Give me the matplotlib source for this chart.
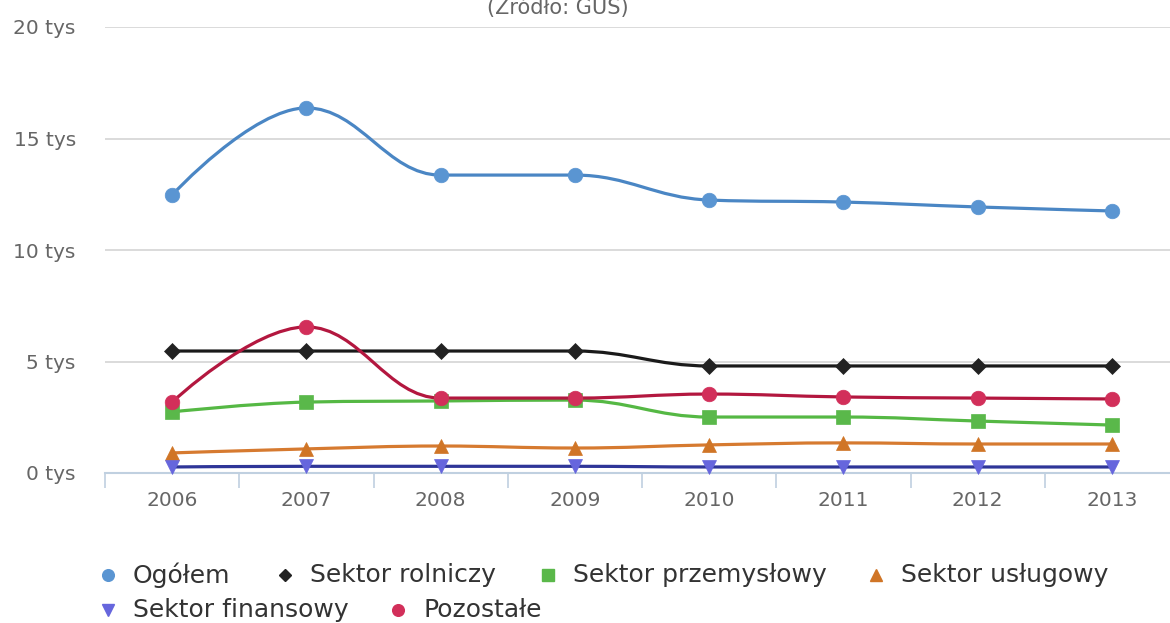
import matplotlib
matplotlib.use("Agg")
import matplotlib.pyplot as plt
from matplotlib.path import Path
from matplotlib.patches import PathPatch
from matplotlib.lines import Line2D

# dane (tys. osób)
years = ['2006', '2007', '2008', '2009', '2010', '2011', '2012', '2013']
ogolem = [12.47, 16.37, 13.36, 13.36, 12.24, 12.15, 11.93, 11.75]
rolniczy = [5.47, 5.47, 5.47, 5.47, 4.80, 4.80, 4.80, 4.80]
przemyslowy = [2.74, 3.18, 3.23, 3.27, 2.51, 2.51, 2.33, 2.15]
uslugowy = [0.90, 1.08, 1.21, 1.12, 1.26, 1.35, 1.30, 1.30]
finansowy = [0.27, 0.30, 0.30, 0.30, 0.27, 0.27, 0.27, 0.27]
pozostale = [3.18, 6.55, 3.36, 3.36, 3.54, 3.41, 3.36, 3.32]

series = [
    ('Ogółem', ogolem, '#4a86c4', '#5a95d2', 'o', 10.5),
    ('Sektor rolniczy', rolniczy, '#1a1a1a', '#222222', 'D', 8),
    ('Sektor przemysłowy', przemyslowy, '#55b844', '#5ab84a', 's', 10),
    ('Sektor usługowy', uslugowy, '#d67a30', '#d07526', '^', 10.5),
    ('Sektor finansowy', finansowy, '#2e3598', '#6666dd', 'v', 10.5),
    ('Pozostałe', pozostale, '#b3173f', '#d22f5a', 'o', 10.5),
]


def spline_path(xs, ys, smoothing=1.5):
    # krzywa Beziera w stylu Highcharts (spline)
    n = len(xs)
    denom = smoothing + 1
    left = [(xs[i], ys[i]) for i in range(n)]
    right = [(xs[i], ys[i]) for i in range(n)]
    for i in range(1, n - 1):
        px, py = xs[i], ys[i]
        lx, ly = xs[i - 1], ys[i - 1]
        nx, ny = xs[i + 1], ys[i + 1]
        lcx = (smoothing * px + lx) / denom
        lcy = (smoothing * py + ly) / denom
        rcx = (smoothing * px + nx) / denom
        rcy = (smoothing * py + ny) / denom
        if rcx != lcx:
            corr = ((rcy - lcy) * (rcx - px)) / (rcx - lcx) + py - rcy
            lcy += corr
            rcy += corr
        if lcy > ly and lcy > py:
            lcy = max(ly, py)
            rcy = 2 * py - lcy
        elif lcy < ly and lcy < py:
            lcy = min(ly, py)
            rcy = 2 * py - lcy
        if rcy > ny and rcy > py:
            rcy = max(ny, py)
            lcy = 2 * py - rcy
        elif rcy < ny and rcy < py:
            rcy = min(ny, py)
            lcy = 2 * py - rcy
        left[i] = (lcx, lcy)
        right[i] = (rcx, rcy)
    verts = [(xs[0], ys[0])]
    codes = [Path.MOVETO]
    for i in range(1, n):
        verts += [right[i - 1], left[i], (xs[i], ys[i])]
        codes += [Path.CURVE4] * 3
    return Path(verts, codes)


fig = plt.figure(figsize=(11.7, 6.23), dpi=100)
ax = fig.add_axes([105 / 1170, 150 / 623, 1074 / 1170, 446 / 623])

x = list(range(len(years)))
for name, vals, lc, mc, mk, ms in series:
    ax.add_patch(PathPatch(spline_path(x, vals), facecolor='none', edgecolor=lc,
                           lw=2.3, capstyle='round', joinstyle='round', zorder=3))
    ax.plot(x, vals, linestyle='none', marker=mk, markersize=ms, markerfacecolor=mc,
            markeredgecolor=mc, markeredgewidth=0.5, zorder=4, clip_on=False)

ax.set_xlim(-0.5, 7.5)
ax.set_ylim(0, 20)
ax.set_yticks([0, 5, 10, 15, 20])
ax.set_yticklabels([f'{v} tys' for v in [0, 5, 10, 15, 20]])
ax.set_xticks(x)
ax.set_xticklabels(years)
ax.set_xticks([i - 0.5 for i in range(len(years) + 1)], minor=True)

for s in ['top', 'right', 'left']:
    ax.spines[s].set_visible(False)
ax.spines['bottom'].set_color('#c0d0e0')
ax.spines['bottom'].set_linewidth(1.5)
ax.spines['bottom'].set_zorder(2)

ax.tick_params(axis='x', which='major', length=0, pad=13, labelsize=14.5, labelcolor='#666666')
ax.tick_params(axis='x', which='minor', length=11, width=1.2, color='#c0d0e0', direction='out')
ax.tick_params(axis='y', length=0, pad=21, labelsize=14.5, labelcolor='#666666')
ax.yaxis.grid(True, color='#d8d8d8', linewidth=1.3)
ax.set_axisbelow(True)

fig.text(558 / 1170, 1 - 14 / 623, '(Źródło: GUS)', ha='center', va='baseline',
         fontsize=15, color='#666666')

# legenda
leg_pos = [(108, 575), (285, 575), (548, 575), (876, 575), (108, 610), (398, 610)]
for (name, vals, lc, mc, mk, ms), (lx, ly) in zip(series, leg_pos):
    yy = 1 - ly / 623
    fig.add_artist(Line2D([lx / 1170], [yy], transform=fig.transFigure, marker=mk,
                          markersize=ms * 0.8, markerfacecolor=mc, markeredgecolor=mc,
                          linestyle='none'))
    fig.text((lx + 25) / 1170, yy, name, ha='left', va='center', fontsize=18, color='#333333')

fig.savefig('out.png', dpi=100)
